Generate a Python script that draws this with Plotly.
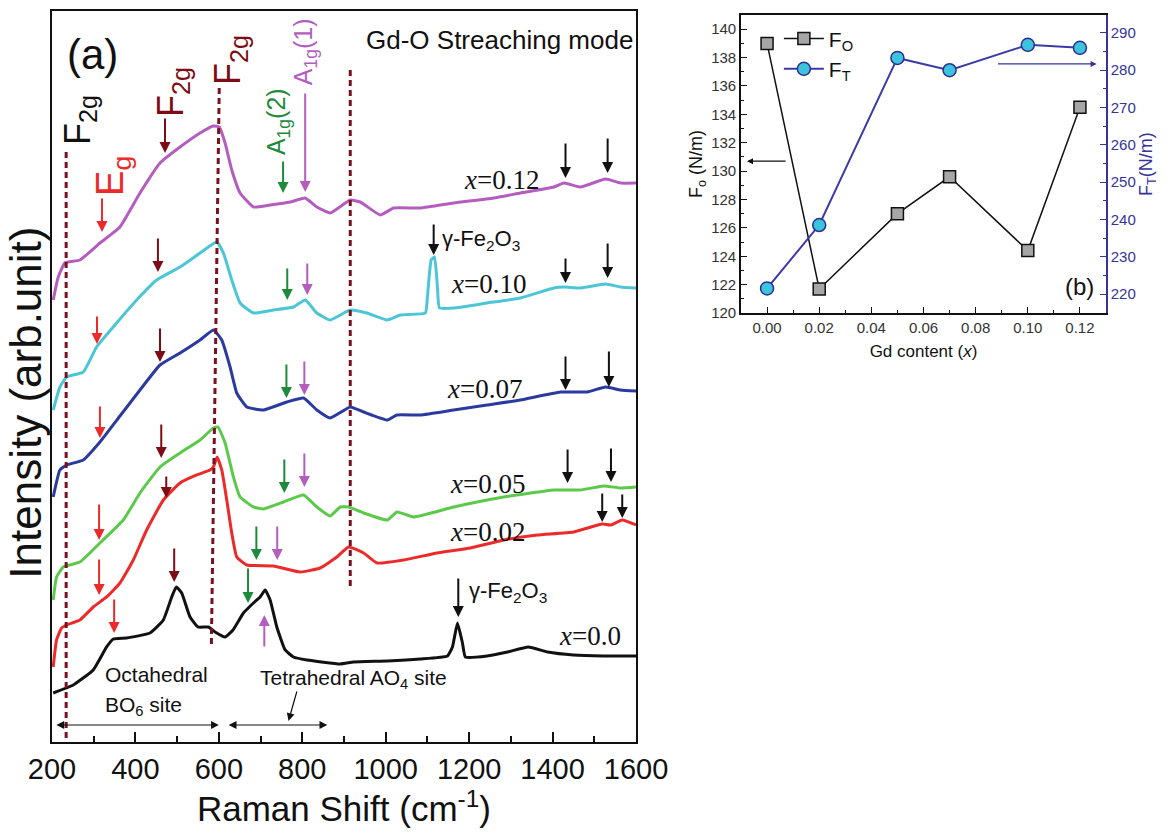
import plotly.graph_objects as go

# ---------------- Panel (a) data: Raman spectra (arb. units, offset) ----------------
rs_000 = [203, 251, 299, 331, 347, 379, 435, 467, 487, 498, 511, 531, 550, 575, 591, 615, 634, 659, 683, 699,
          711, 723, 739, 759, 779, 811, 891, 923, 1004, 1083, 1148, 1160, 1172, 1184, 1191, 1243, 1292, 1342,
          1388, 1450, 1522, 1600]
i_000 = [49, 57, 72, 95, 103, 104, 109, 122, 145, 155, 149, 125, 115, 115, 110, 105, 112, 129, 139, 145,
         152, 142, 115, 92, 85, 82, 78, 80, 81, 83, 86, 95, 119, 99, 85, 86, 90, 95, 90, 87, 86, 86]

rs_002 = [203, 211, 223, 235, 267, 299, 331, 363, 395, 427, 467, 507, 547, 579, 587, 596, 607, 619, 631, 643,
          667, 731, 795, 843, 883, 911, 947, 979, 1043, 1123, 1203, 1283, 1363, 1451, 1519, 1539, 1567, 1600]
i_002 = [75, 102, 114, 117, 122, 135, 145, 159, 182, 212, 242, 259, 267, 272, 275, 285, 272, 242, 209, 185,
         177, 176, 170, 174, 185, 195, 189, 179, 182, 189, 194, 202, 207, 210, 218, 217, 222, 217]

rs_005 = [203, 211, 227, 267, 315, 371, 411, 459, 507, 555, 587, 598, 615, 635, 651, 683, 707, 755, 803, 835,
          867, 891, 911, 947, 1004, 1027, 1067, 1163, 1283, 1403, 1467, 1523, 1563, 1600]
i_005 = [142, 165, 175, 180, 199, 222, 249, 275, 289, 302, 314, 315, 299, 265, 245, 235, 233, 240, 247, 235,
         226, 235, 235, 229, 222, 230, 225, 235, 245, 252, 252, 256, 254, 255]

rs_007 = [203, 219, 235, 275, 315, 363, 411, 459, 507, 555, 587, 607, 627, 643, 667, 707, 763, 803, 835, 867,
          915, 947, 1004, 1027, 1083, 1163, 1243, 1323, 1419, 1483, 1527, 1563, 1600]
i_007 = [245, 272, 277, 282, 300, 326, 352, 377, 389, 402, 412, 402, 375, 349, 335, 332, 340, 344, 332, 324,
         335, 330, 322, 327, 327, 332, 337, 342, 350, 350, 355, 352, 351]

rs_010 = [203, 219, 235, 275, 307, 355, 403, 451, 507, 555, 595, 611, 631, 651, 683, 731, 779, 807, 835, 867,
          915, 955, 1004, 1035, 1095, 1100, 1109, 1117, 1124, 1129, 1163, 1243, 1323, 1403, 1427, 1467, 1527,
          1563, 1600]
i_010 = [332, 355, 365, 370, 395, 419, 442, 462, 475, 489, 500, 489, 462, 439, 429, 432, 435, 442, 429, 422,
         432, 429, 422, 427, 429, 445, 482, 485, 455, 434, 434, 439, 444, 454, 455, 454, 458, 455, 454]

rs_012 = [203, 215, 231, 267, 315, 363, 411, 459, 507, 555, 587, 601, 615, 631, 651, 683, 723, 771, 807, 835,
          867, 915, 939, 987, 1019, 1083, 1163, 1259, 1323, 1403, 1427, 1467, 1527, 1563, 1600]
i_012 = [442, 465, 479, 482, 499, 515, 549, 579, 595, 609, 616, 615, 599, 572, 549, 535, 537, 540, 544, 535,
         529, 542, 540, 527, 534, 534, 539, 544, 549, 555, 559, 555, 563, 559, 559]

series_names = ["x=0.0", "x=0.02", "x=0.05", "x=0.07", "x=0.10", "x=0.12"]
series_x = [rs_000, rs_002, rs_005, rs_007, rs_010, rs_012]
series_y = [i_000, i_002, i_005, i_007, i_010, i_012]
series_colors = ["#111111", "#ec2a2a", "#5cc94a", "#2b3a9e", "#4cc6d6", "#b35ebf"]

# ---------------- Panel (b) data: force constants ----------------
gd_content = [0.00, 0.02, 0.05, 0.07, 0.10, 0.12]
f_o = [139.0, 121.7, 127.0, 129.6, 124.4, 134.5]
f_t = [221.5, 238.5, 283.3, 280.0, 286.8, 286.0]

RED = "#ec2a2a"
DRED = "#7d0c14"
GRN = "#1e8a3c"
PUR = "#b35ebf"
BLK = "#111111"
BLUE_AX = "#34349a"
SANS = "Arial, Liberation Sans, sans-serif"
SERIF = "Times New Roman, Liberation Serif, serif"

fig = go.Figure()

for nm, xs, ys, c in zip(series_names, series_x, series_y, series_colors):
    fig.add_trace(go.Scatter(x=xs, y=ys, mode="lines", name=nm, showlegend=False,
                             line=dict(color=c, width=3, shape="spline", smoothing=0.4),
                             xaxis="x", yaxis="y"))

fig.add_trace(go.Scatter(x=gd_content, y=f_o, mode="lines+markers", name="F<sub>O</sub>",
                         line=dict(color="#111111", width=1.5),
                         marker=dict(symbol="square", size=12, color="#a6a6a6",
                                     line=dict(color="#111111", width=1.5)),
                         xaxis="x2", yaxis="y2"))
fig.add_trace(go.Scatter(x=gd_content, y=f_t, mode="lines+markers", name="F<sub>T</sub>",
                         line=dict(color="#3a3aa8", width=2),
                         marker=dict(symbol="circle", size=13, color="#3cc3de",
                                     line=dict(color="#2e2e90", width=1.5)),
                         xaxis="x2", yaxis="y3"))

ann = []


def arrow(x, yh, yt, color, width=2, xt=None, size=1.1):
    ann.append(dict(x=x, y=yh, ax=x if xt is None else xt, ay=yt, xref="x", yref="y", axref="x", ayref="y",
                    text="", showarrow=True, arrowhead=2, arrowsize=size, arrowwidth=width,
                    arrowcolor=color))


# coloured mode markers (x position, head, tail, colour)
mode_arrows = [
    (320, 510, 545, RED), (471, 589, 625, DRED), (754, 549, 582, GRN), (807, 550, 650, PUR),
    (308, 398, 427, RED), (454, 470, 505, DRED), (764, 442, 475, GRN), (812, 447, 480, PUR),
    (315, 304, 337, RED), (459, 380, 415, DRED), (762, 344, 379, GRN), (805, 347, 382, PUR),
    (313, 202, 239, RED), (462, 284, 319, DRED), (757, 249, 284, GRN), (805, 255, 290, PUR),
    (313, 147, 184, RED), (474, 244, 267, DRED), (690, 182, 217, GRN), (740, 182, 217, PUR),
    (349, 109, 144, RED), (493, 160, 195, DRED), (670, 139, 175, GRN), (709, 127, 94, PUR),
    (1431, 564, 600, BLK), (1532, 569, 605, BLK),
    (1431, 459, 485, BLK), (1532, 464, 500, BLK),
    (1431, 352, 387, BLK), (1535, 355, 392, BLK),
    (1436, 259, 294, BLK), (1540, 260, 295, BLK),
    (1519, 220, 250, BLK), (1567, 224, 249, BLK),
    (1115, 487, 519, BLK), (1174, 125, 165, BLK),
]
for x, yh, yt, c in mode_arrows:
    arrow(x, yh, yt, c)

# double-headed site arrows
for x0, x1 in [(207, 600), (620, 860)]:
    ann.append(dict(x=x1, y=17, ax=x0, ay=17, xref="x", yref="y", axref="x", ayref="y", text="",
                    showarrow=True, arrowhead=2, startarrowhead=2, arrowside="end+start",
                    arrowsize=1.3, arrowwidth=1.2, arrowcolor=BLK))
arrow(767, 21, 52, BLK, width=1.2, xt=788, size=1.3)


def txt(x, y, s, size, color=BLK, angle=0, xanchor="center", family=SANS, xref="x", yref="y"):
    ann.append(dict(x=x, y=y, xref=xref, yref=yref, text=s, showarrow=False, textangle=angle,
                    xanchor=xanchor, yanchor="middle", font=dict(size=size, color=color, family=family)))


txt(298, 688, "(a)", 42)
txt(267, 622, "F<sub>2g</sub>", 36, BLK, -90)
txt(346, 566, "E<sub>g</sub>", 38, RED, -90)
txt(490, 650, "F<sub>2g</sub>", 36, DRED, -90)
txt(627, 682, "F<sub>2g</sub>", 36, DRED, -90)
txt(742, 620, "A<sub>1g</sub>(2)", 25, GRN, -90)
txt(807, 690, "A<sub>1g</sub>(1)", 25, PUR, -90)
txt(1272, 702, "Gd-O Streaching mode", 26)
txt(1277, 562, "<i>x</i>=0.12", 27, family=SERIF)
txt(1246, 458, "<i>x</i>=0.10", 27, family=SERIF)
txt(1237, 353, "<i>x</i>=0.07", 27, family=SERIF)
txt(1244, 258, "<i>x</i>=0.05", 27, family=SERIF)
txt(1244, 210, "<i>x</i>=0.02", 27, family=SERIF)
txt(1489, 106, "<i>x</i>=0.0", 27, family=SERIF)
txt(1131, 502, "γ-Fe<sub>2</sub>O<sub>3</sub>", 22, xanchor="left")
txt(1196, 150, "γ-Fe<sub>2</sub>O<sub>3</sub>", 22, xanchor="left")
txt(322, 67, "Octahedral", 21, xanchor="left")
txt(322, 36, "BO<sub>6</sub> site", 21, xanchor="left")
txt(694, 63, "Tetrahedral AO<sub>4</sub> site", 21, xanchor="left")

# y-axis title of panel (a), placed as in the reference (slightly below centre)
txt(0.0215, 0.518, "Intensity (arb.unit)", 44, angle=-90, xref="paper", yref="paper")

# panel (b) texts and arrows
txt(0.12, 121.9, "(b)", 24, xref="x2", yref="y2")
ann.append(dict(x=-0.0077, y=130.7, ax=0.0077, ay=130.7, xref="x2", yref="y2", axref="x2", ayref="y2",
                text="", showarrow=True, arrowhead=2, arrowsize=1, arrowwidth=1.2, arrowcolor=BLK))
ann.append(dict(x=0.1264, y=281.7, ax=0.088, ay=281.7, xref="x2", yref="y3", axref="x2", ayref="y3",
                text="", showarrow=True, arrowhead=2, arrowsize=1, arrowwidth=1.2, arrowcolor=BLUE_AX))

# dashed reference lines
shapes = []
for (x0, y0, x1, y1) in [(234, 590, 234, 0), (601, 654, 582, 94), (915, 672, 915, 152)]:
    shapes.append(dict(type="line", xref="x", yref="y", x0=x0, y0=y0, x1=x1, y1=y1,
                       line=dict(color="#7a1020", width=3, dash="6px,4px")))

fig.update_layout(
    width=1173, height=835, margin=dict(l=0, r=0, t=0, b=0, autoexpand=False),
    paper_bgcolor="white", plot_bgcolor="white",
    font=dict(family=SANS, color=BLK),
    annotations=ann, shapes=shapes,
    xaxis=dict(domain=[0.0443, 0.5422], range=[200, 1600], anchor="y", automargin=False,
               showline=True, linecolor=BLK, linewidth=2, mirror=True, showgrid=False, zeroline=False,
               ticks="inside", ticklen=10, tickwidth=2, tickcolor=BLK, dtick=200, tick0=200,
               minor=dict(ticks="inside", ticklen=6, tickwidth=2, dtick=100, tickcolor=BLK),
               tickfont=dict(size=29, family=SANS, color=BLK),
               title=dict(text="Raman Shift (cm<sup>-1</sup>)", font=dict(size=35, family=SANS), standoff=8)),
    yaxis=dict(domain=[0.1114, 0.9868], range=[0, 731], anchor="x", automargin=False,
               showline=True, linecolor=BLK, linewidth=2, mirror=True, showgrid=False, zeroline=False,
               showticklabels=False, ticks=""),
    xaxis2=dict(domain=[0.6317, 0.9429], range=[-0.01, 0.13], anchor="y2", automargin=False,
                showline=True, linecolor=BLK, linewidth=1.5, mirror=True, showgrid=False, zeroline=False,
                ticks="inside", ticklen=6, tickcolor=BLK, dtick=0.02, tick0=0, tickformat=".2f",
                minor=dict(ticks="inside", ticklen=3, dtick=0.01, tickcolor=BLK),
                tickfont=dict(size=15, family=SANS, color="#333333"),
                title=dict(text="Gd content (<i>x</i>)", font=dict(size=17, family=SANS), standoff=10)),
    yaxis2=dict(domain=[0.6251, 0.982], range=[120, 141], anchor="x2", automargin=False,
                showline=True, linecolor=BLK, linewidth=1.5, showgrid=False, zeroline=False,
                ticks="inside", ticklen=6, tickcolor=BLK, dtick=2, tick0=120,
                minor=dict(ticks="inside", ticklen=3, dtick=1, tickcolor=BLK),
                tickfont=dict(size=15, family=SANS, color="#333333"),
                title=dict(text="F<sub>o</sub> (N/m)", font=dict(size=18, family=SANS), standoff=4)),
    yaxis3=dict(overlaying="y2", side="right", anchor="x2", range=[214.9, 294.8], automargin=False,
                showline=True, linecolor=BLUE_AX, linewidth=1.5, showgrid=False, zeroline=False,
                ticks="inside", ticklen=6, tickcolor=BLUE_AX, dtick=10, tick0=220,
                minor=dict(ticks="inside", ticklen=3, dtick=5, tickcolor=BLUE_AX),
                tickfont=dict(size=15, family=SANS, color=BLUE_AX),
                title=dict(text="F<sub>T</sub>(N/m)", font=dict(size=18, family=SANS, color=BLUE_AX), standoff=4)),
    legend=dict(x=0.664, y=0.978, xanchor="left", yanchor="top", bgcolor="rgba(0,0,0,0)",
                font=dict(size=21, family=SANS, color=BLK), tracegroupgap=0, itemwidth=40),
)

fig.write_html("out.html", config={"displayModeBar": False},
               post_script="document.body.style.margin='0px';")
